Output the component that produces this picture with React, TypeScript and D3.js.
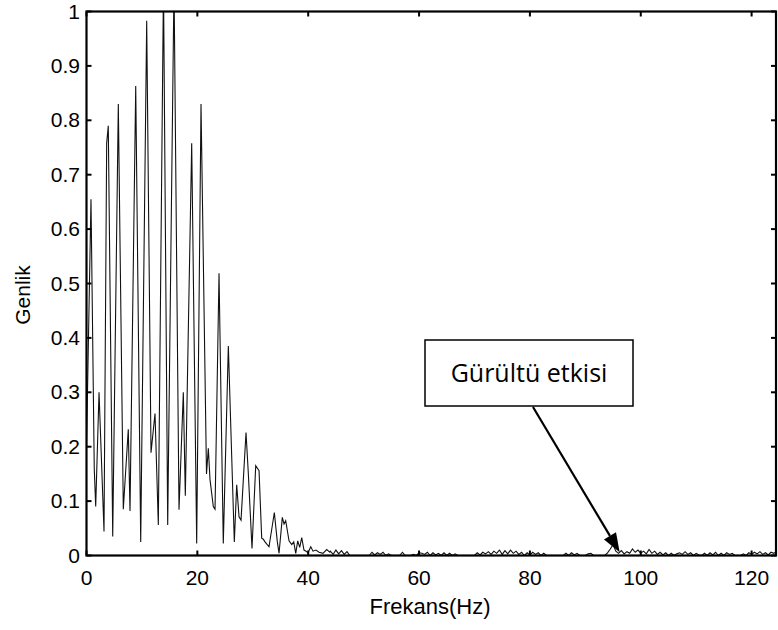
import React from "react";
import * as d3 from "d3";

// ---- data ----
// main spectrum, 0–44 Hz (frequency in Hz, amplitude)
const peakFreqs = [
  0, 0.81, 1.4, 1.66, 2.26, 3.16, 3.64, 3.93, 4.73, 5.74, 6.64, 7.54, 7.85, 8.88, 9.78,
  10.86, 11.64, 12.36, 12.96, 13.89, 14.65, 15.79, 16.69, 17.47, 17.83, 18.98, 19.88,
  20.66, 21.65, 21.98, 22.28, 22.88, 23.19, 23.91, 24.68, 25.59, 26.67, 27.1, 27.52,
  27.88, 28.78, 29.19, 29.86, 30.53, 31.13, 31.61, 31.9, 32.2, 32.93, 33.89, 34.43,
  34.74, 35.33, 35.64, 35.94, 36.54, 37.03, 37.39, 37.75, 38.11, 38.47, 38.83, 39.24,
  39.6, 39.96, 40.46, 40.87, 41.41, 41.95, 42.67, 43.34, 43.9,
];
const peakAmps = [
  0.2, 0.655, 0.16, 0.09, 0.3, 0.044, 0.758, 0.79, 0.035, 0.83, 0.085, 0.232, 0.082, 0.863, 0.025,
  0.983, 0.189, 0.261, 0.056, 1.05, 0.056, 1.05, 0.084, 0.3, 0.11, 0.758, 0.022,
  0.83, 0.15, 0.197, 0.14, 0.09, 0.085, 0.519, 0.022, 0.385, 0.025, 0.13, 0.071,
  0.065, 0.226, 0.152, 0.013, 0.165, 0.156, 0.032, 0.03, 0.025, 0.016, 0.079, 0.025,
  0.004, 0.07, 0.058, 0.064, 0.027, 0.02, 0.025, 0.004, 0.027, 0.015, 0.033, 0.01,
  0.008, 0.005, 0.016, 0.008, 0.01, 0.006, 0.004, 0.011, 0.006,
];
// noise floor, 44–125 Hz, one value per 0.5 Hz bin
const noiseStartHz = 44;
const noiseBinHz = 0.5;
const noiseAmps = [
  0.008, 0.002, 0.01, 0.003, 0.009, 0.002, 0.007, 0,
  0, 0, 0, 0, 0, 0, 0,
  0.006, 0.001, 0.005, 0.002, 0.006, 0, 0.003,
  0, 0, 0, 0,
  0.006, 0,
  0, 0, 0.002, 0, 0.005,
  0.004, 0.002, 0.006, 0, 0.005, 0.001, 0.004, 0, 0.005, 0, 0.004, 0, 0.003, 0, 0,
  0, 0, 0, 0, 0,
  0.005, 0.001, 0.006, 0.003, 0.007, 0.002, 0.008, 0.004, 0.01, 0.002,
  0.009, 0.003, 0.01, 0.004, 0.008, 0.002, 0.006, 0, 0.005, 0.001, 0.006, 0.002, 0.005, 0,
  0.004, 0, 0, 0, 0, 0, 0, 0,
  0.004, 0, 0.005, 0.001, 0.004, 0,
  0, 0, 0.003, 0.004, 0, 0, 0, 0, 0,
  0.005, 0.012, 0.02, 0.008, 0.004, 0.009,
  0.003, 0.007, 0.004, 0.012, 0.006, 0.01, 0.004, 0.008, 0.003,
  0.011, 0.004, 0.008, 0.002, 0.006, 0.001, 0.005, 0, 0.004, 0, 0.003,
  0.005, 0.002, 0.007, 0.002, 0.005, 0, 0.004, 0.001, 0,
  0.004, 0, 0.005, 0.001, 0.006, 0, 0.004, 0, 0.005, 0.002, 0.004, 0, 0,
  0, 0.003, 0,
  0.005, 0.002, 0.006, 0.003, 0.007, 0.002, 0.005, 0.001, 0.006, 0.004, 0.008, 0.003,
];
const xTicks = [0, 20, 40, 60, 80, 100, 120];
const yTicks = [0, 0.1, 0.2, 0.3, 0.4, 0.5, 0.6, 0.7, 0.8, 0.9, 1];
const xTitle = "Frekans(Hz)";
const yTitle = "Genlik";
const noteText = "Gürültü etkisi";
const noteTargetHz = 96.2;
const noteTargetAmp = 0.006;

export default function App() {
  const W = 778, H = 630;
  const left = 86.5, right = 776, top = 11.5, bottom = 555.5;
  const x = d3.scaleLinear().domain([0, 124.4]).range([left, right]);
  const y = d3.scaleLinear().domain([0, 1]).range([bottom, top]);

  const pts: [number, number][] = peakFreqs.map((f, i) => [f, peakAmps[i]]);
  noiseAmps.forEach((a, i) => pts.push([noiseStartHz + i * noiseBinHz, a]));
  const line = d3.line<[number, number]>().x((d) => x(d[0])).y((d) => y(d[1]));

  const font = "Arial, 'Liberation Sans', Helvetica, sans-serif";
  const tk = 5;

  const tipX = x(noteTargetHz), tipY = y(noteTargetAmp);
  const boxX = 425, boxY = 340, boxW = 208, boxH = 66;
  const startX = 533, startY = boxY + boxH + 1;
  const ang = Math.atan2(tipY - startY, tipX - startX);
  const headL = 19, headW = 7;
  const bx = tipX - headL * Math.cos(ang), by = tipY - headL * Math.sin(ang);
  const px = -Math.sin(ang) * headW, py = Math.cos(ang) * headW;

  return (
    <svg width={W} height={H} style={{ position: "absolute", left: 0, top: 0, background: "#fff" }}>
      <defs>
        <clipPath id="plotclip">
          <rect x={left} y={top} width={right - left} height={bottom - top} />
        </clipPath>
      </defs>
      <rect x={0} y={0} width={W} height={H} fill="#fff" />
      <path d={line(pts) || ""} fill="none" stroke="#111" strokeWidth={1.1} clipPath="url(#plotclip)" />
      {/* frame */}
      <rect x={left} y={top} width={right - left} height={bottom - top} fill="none" stroke="#000" strokeWidth={2.2} />
      {xTicks.map((t) => (
        <g key={"x" + t}>
          <line x1={x(t)} x2={x(t)} y1={bottom} y2={bottom - tk} stroke="#000" strokeWidth={2} />
          <line x1={x(t)} x2={x(t)} y1={top} y2={top + tk} stroke="#000" strokeWidth={2} />
          <text x={x(t)} y={585} textAnchor="middle" fontFamily={font} fontSize={21}>{t}</text>
        </g>
      ))}
      {yTicks.map((t) => (
        <g key={"y" + t}>
          <line x1={left} x2={left + tk} y1={y(t)} y2={y(t)} stroke="#000" strokeWidth={2} />
          <line x1={right} x2={right - tk} y1={y(t)} y2={y(t)} stroke="#000" strokeWidth={2} />
          <text x={80} y={y(t) + 7} textAnchor="end" fontFamily={font} fontSize={21}>{t}</text>
        </g>
      ))}
      <text x={430} y={614} textAnchor="middle" fontFamily={font} fontSize={22}>{xTitle}</text>
      <text transform={`translate(30,295) rotate(-90)`} textAnchor="middle" fontFamily={font} fontSize={21}>{yTitle}</text>
      {/* annotation */}
      <rect x={boxX} y={boxY} width={boxW} height={boxH} fill="#fff" stroke="#000" strokeWidth={1.5} />
      <text x={boxX + boxW / 2} y={boxY + boxH / 2 + 9} textAnchor="middle" fontFamily="'Open Sans', 'Noto Sans', sans-serif" fontSize={25}>{noteText}</text>
      <line x1={startX} y1={startY} x2={bx} y2={by} stroke="#000" strokeWidth={2.2} />
      <polygon points={`${tipX},${tipY} ${bx + px},${by + py} ${bx - px},${by - py}`} fill="#000" />
    </svg>
  );
}
